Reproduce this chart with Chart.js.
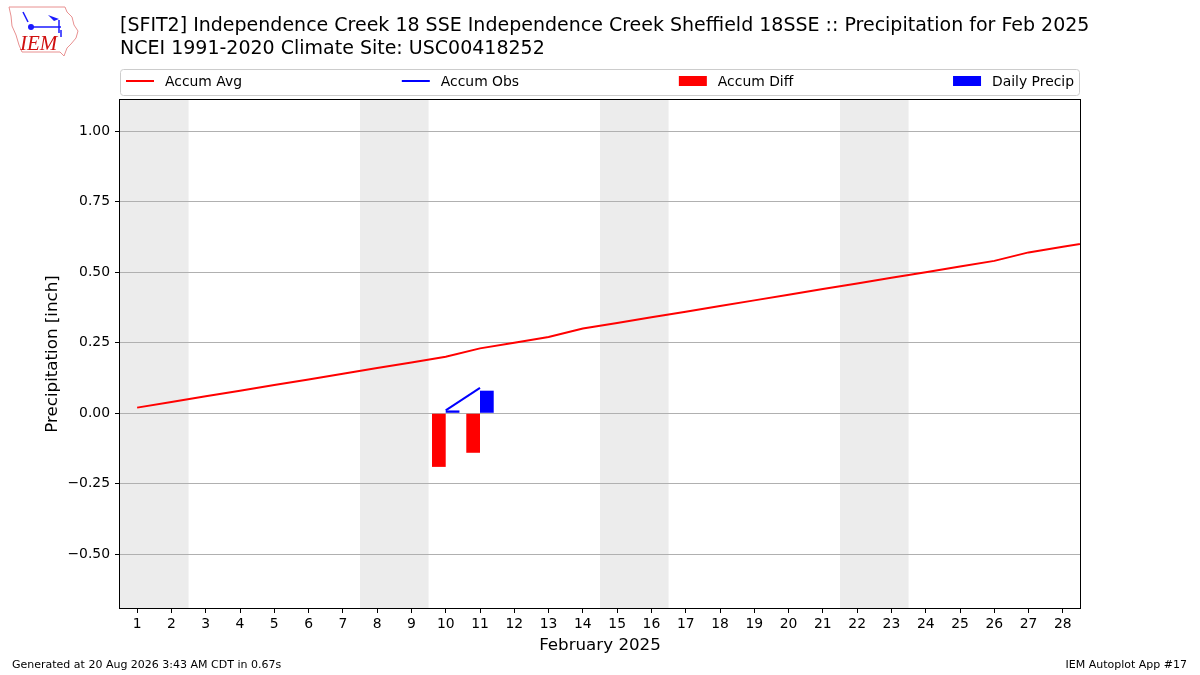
<!DOCTYPE html>
<html lang="en">
<head>
<meta charset="UTF-8">
<title>Precipitation for Feb 2025</title>
<script src="https://cdn.jsdelivr.net/npm/chart.js@4"></script>
<style>
  body { margin: 0; background: #fff; }
  .wrap { position: relative; width: 1200px; height: 675px; overflow: hidden; }
  canvas { position: absolute; left: 0; top: 0; }
  #logo { position: absolute; left: 0; top: 0; }
</style>
</head>
<body>
<div class="wrap">
  <canvas id="precipChart" width="1200" height="675"></canvas>
  <svg id="logo" width="90" height="62" viewBox="0 0 90 62">
    <path d="M9,7 L65,7 L67,12 L72,17 L74,25 L78,31 L76,38 L71,44 L67,48 L64,56 L60,52 L22,52 L19,45 L16,35 L12,26 L11,16 Z"
          fill="none" stroke="#e89090" stroke-width="1"/>
    <line x1="23" y1="12" x2="28" y2="22" stroke="#1a1aff" stroke-width="1.5"/>
    <line x1="31" y1="27" x2="61" y2="27" stroke="#1a1aff" stroke-width="1.5"/>
    <circle cx="31" cy="27" r="3" fill="#1a1aff"/>
    <path d="M48,15 L59,19 L54,21 Z" fill="#1a1aff"/>
    <line x1="59" y1="20" x2="59" y2="33" stroke="#1a1aff" stroke-width="1.5"/>
    <line x1="61" y1="30" x2="61" y2="37" stroke="#1a1aff" stroke-width="1.5"/>
    <text x="20" y="50" font-family="Liberation Serif, serif" font-style="italic" font-size="21" fill="#d01010">IEM</text>
  </svg>
</div>
<script>
// days of February 2025 shown on the x axis
const days = [1,2,3,4,5,6,7,8,9,10,11,12,13,14,15,16,17,18,19,20,21,22,23,24,25,26,27,28];
const xTickLabels = days.map(String);
// climatology accumulation; last value (Mar 1) runs off the right edge
const avgDays = days.concat([29]);
const accumAvg = [0.02,0.04,0.06,0.08,0.10,0.12,0.14,0.16,0.18,0.20,0.23,0.25,0.27,0.30,0.32,0.34,0.36,0.38,0.40,0.42,0.44,0.46,0.48,0.50,0.52,0.54,0.57,0.59,0.61];
// observed days only
const obsDays = [10, 11];
const accumObs = [0.01, 0.09];
const accumDiff = [-0.19, -0.14];
const dailyPrecip = [0.01, 0.08];
// weekend day pairs (shaded)
const weekends = [[1,2],[8,9],[15,16],[22,23]];
const yTicks = [-0.50,-0.25,0.00,0.25,0.50,0.75,1.00];

const titleLines = [
  '[SFIT2] Independence Creek 18 SSE Independence Creek Sheffield 18SSE :: Precipitation for Feb 2025',
  'NCEI 1991-2020 Climate Site: USC00418252'
];
const footLeft = 'Generated at 20 Aug 2026 3:43 AM CDT in 0.67s';
const footRight = 'IEM Autoplot App #17';

const FONT = 'DejaVu Sans';
Chart.defaults.font.family = FONT;
Chart.defaults.color = '#000';

const xy = (xs, ys) => xs.map((x, i) => ({ x: x, y: ys[i] }));

const decor = {
  id: 'decor',
  beforeDraw(chart) {
    const { ctx, chartArea: a, scales: { x } } = chart;
    ctx.save();
    ctx.fillStyle = '#ececec';
    weekends.forEach(w => {
      const x0 = Math.max(x.getPixelForValue(w[0] - 0.5), a.left);
      const x1 = Math.min(x.getPixelForValue(w[1] + 0.5), a.right);
      ctx.fillRect(x0, a.top, x1 - x0, a.bottom - a.top);
    });
    ctx.restore();
  },
  afterDraw(chart) {
    const { ctx, chartArea: a } = chart;
    ctx.save();
    // axes frame
    ctx.strokeStyle = '#000';
    ctx.lineWidth = 1;
    ctx.strokeRect(Math.round(a.left) - 0.5, Math.round(a.top) - 0.5,
      Math.round(a.right - a.left) + 1, Math.round(a.bottom - a.top) + 1);

    // title
    ctx.fillStyle = '#000';
    ctx.textBaseline = 'alphabetic';
    ctx.textAlign = 'left';
    ctx.font = '19px "' + FONT + '"';
    ctx.fillText(titleLines[0], a.left, 31);
    ctx.fillText(titleLines[1], a.left, 54);

    // legend (spread across the plot width)
    const lTop = 69, lBot = 95, midY = 81;
    ctx.beginPath();
    ctx.roundRect(a.left + 0.5, lTop + 0.5, a.right - a.left - 1, lBot - lTop, 3);
    ctx.fillStyle = '#fff';
    ctx.fill();
    ctx.strokeStyle = '#cccccc';
    ctx.stroke();
    ctx.font = '13.9px "' + FONT + '"';
    ctx.textBaseline = 'middle';
    const sym = 28, gap = 11;
    const items = chart.data.datasets.map(d => ({
      label: d.label, color: d.borderColor || d.backgroundColor, kind: d.type,
      w: sym + gap + ctx.measureText(d.label).width
    }));
    const total = items.reduce((s, it) => s + it.w, 0);
    const x0 = a.left + 6, x1 = a.right - 6;
    const space = (x1 - x0 - total) / (items.length - 1);
    let cx = x0;
    items.forEach(it => {
      if (it.kind === 'line') {
        ctx.strokeStyle = it.color;
        ctx.lineWidth = 2;
        ctx.beginPath();
        ctx.moveTo(cx, midY);
        ctx.lineTo(cx + sym, midY);
        ctx.stroke();
      } else {
        ctx.fillStyle = it.color;
        ctx.fillRect(cx, midY - 5, sym, 10);
      }
      ctx.fillStyle = '#000';
      ctx.fillText(it.label, cx + sym + gap, midY + 1);
      cx += it.w + space;
    });

    // footer
    ctx.font = '11px "' + FONT + '"';
    ctx.textBaseline = 'alphabetic';
    ctx.textAlign = 'left';
    ctx.fillText(footLeft, 12, 668);
    ctx.textAlign = 'right';
    ctx.fillText(footRight, 1187, 668);
    ctx.restore();
  }
};

new Chart(document.getElementById('precipChart'), {
  type: 'line',
  data: {
    datasets: [
      { type: 'line', label: 'Accum Avg', data: xy(avgDays, accumAvg),
        borderColor: '#ff0000', borderWidth: 2, pointRadius: 0, tension: 0 },
      { type: 'line', label: 'Accum Obs', data: xy(obsDays, accumObs),
        borderColor: '#0000ff', borderWidth: 2, pointRadius: 0, tension: 0 },
      { type: 'bar', label: 'Accum Diff', data: xy(obsDays, accumDiff),
        backgroundColor: '#ff0000', categoryPercentage: 0.8, barPercentage: 1.0 },
      { type: 'bar', label: 'Daily Precip', data: xy(obsDays, dailyPrecip),
        backgroundColor: '#0000ff', categoryPercentage: 0.8, barPercentage: 1.0 }
    ]
  },
  options: {
    responsive: false,
    animation: false,
    devicePixelRatio: 1,
    layout: { padding: { top: 100, right: 120, bottom: 17, left: 40 } },
    plugins: { legend: { display: false }, tooltip: { enabled: false }, title: { display: false } },
    scales: {
      x: {
        type: 'linear', min: 0.5, max: 28.5, offset: false,
        afterFit(s) { s.height = 50; },
        afterBuildTicks(s) { s.ticks = days.map(v => ({ value: v })); },
        border: { display: false },
        grid: { offset: false, drawOnChartArea: false, drawTicks: true, tickLength: 5, tickColor: '#000' },
        ticks: {
          autoSkip: false, maxRotation: 0,
          padding: 3, font: { size: 13.9 },
          callback: (v, i) => xTickLabels[i]
        },
        title: { display: true, text: 'February 2025', font: { size: 16.7 }, padding: { top: 0, bottom: 2 } }
      },
      y: {
        min: -0.69, max: 1.11,
        afterFit(s) { s.width = 80; },
        afterBuildTicks(s) { s.ticks = yTicks.map(v => ({ value: v })); },
        border: { display: false },
        grid: { color: '#b0b0b0', lineWidth: 1, drawTicks: true, tickLength: 5, tickColor: '#000' },
        ticks: {
          padding: 5, font: { size: 13.9 },
          callback: v => (v < 0 ? '\u2212' : '') + Math.abs(v).toFixed(2)
        },
        title: { display: true, text: 'Precipitation [inch]', font: { size: 16.7 }, padding: { top: 3, bottom: 0 } }
      }
    }
  },
  plugins: [decor]
});
</script>
</body>
</html>
